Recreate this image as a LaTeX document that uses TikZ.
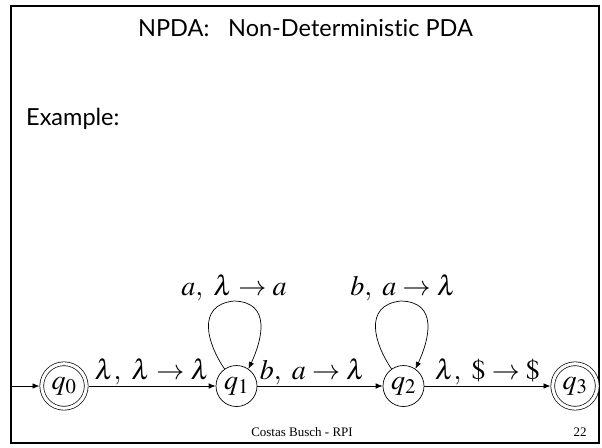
\documentclass[tikz,border=0pt]{standalone}
\usepackage{mathptmx}
\usepackage[no-math]{fontspec}
\setmainfont{Liberation Serif}
\newfontfamily\gillfont[Ligatures=NoCommon]{Lato}
\usetikzlibrary{arrows.meta}

\tikzset{
    state/.style={circle, draw, line width=0.7pt, minimum size=41pt, inner sep=0pt,
        font=\fontsize{28}{30}\selectfont},
    accept/.style={state, minimum size=44.5pt, double, double distance=3.1pt, outer sep=2.25pt},
    edge/.style={line width=0.7pt, -{Latex[length=7pt, width=5.5pt]}},
    trans/.style={font=\fontsize{28}{30}\selectfont, inner sep=1pt},
    slide/.style={font=\gillfont\fontsize{23.5}{27}\selectfont, inner sep=0pt}
}

\begin{document}
\begin{tikzpicture}[x=1pt, y=-1pt]
    \useasboundingbox (0,0) rectangle (602,447);
    % slide frame
    \draw[line width=2.2pt] (11,6) rectangle (599,443);

    % heading
    \node[slide, anchor=base] (title) at (305.5,36.5) {NPDA:\hspace{0.8em}Non-Deterministic PDA};
    \node[slide, anchor=base west] (example) at (26,125) {Example:};

    % states
    \coordinate (start) at (11,386);
    \node[accept] (q0) at (64,386) {$q_0$};
    \node[state] (q1) at (236.5,386) {$q_1$};
    \node[state] (q2) at (403.5,386) {$q_2$};
    \node[accept] (q3) at (575,386) {$q_3$};

    % transitions
    \draw[edge] (start) -- (q0);
    \draw[edge] (q0) -- node[trans, above] (t01) {$\lambda,\ \lambda \rightarrow \lambda$} (q1);
    \draw[edge] (q1) -- node[trans, above, pos=0.44] (t12) {$b,\ a \rightarrow \lambda$} (q2);
    \draw[edge] (q2) -- node[trans, above] (t23) {$\lambda,\ \$ \rightarrow \$$} (q3);

    % self loops
    \draw[edge] (q1.125) .. controls (208,345) and (195,305) .. (234,301)
        .. controls (272,302) and (262,340) .. (q1.55);
    \node[trans, anchor=base] (l1) at (234,295) {$a,\ \lambda \rightarrow a$};
    \draw[edge] (q2.125) .. controls (375,345) and (362,305) .. (401,301)
        .. controls (439,302) and (429,340) .. (q2.55);
    \node[trans, anchor=base] (l2) at (403,295) {$b,\ a \rightarrow \lambda$};

    % footer
    \node[font=\fontsize{13}{15}\selectfont] (footer) at (302,432) {Costas Busch - RPI};
    \node[font=\fontsize{13}{15}\selectfont] (page) at (580,432) {22};
\end{tikzpicture}
\end{document}
